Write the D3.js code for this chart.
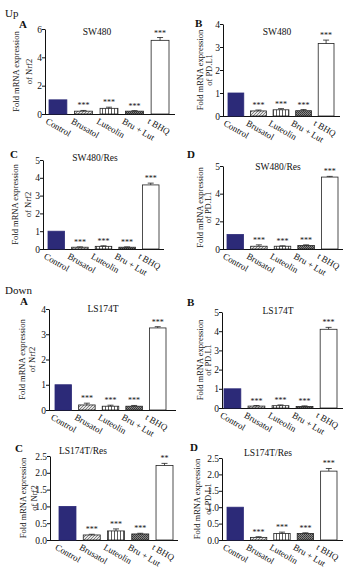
<!DOCTYPE html>
<html><head><meta charset="utf-8">
<script src="https://cdn.jsdelivr.net/npm/d3@7"></script>
<style>body{margin:0;background:#fff}svg{display:block}text{font-family:"Liberation Serif","DejaVu Serif",serif;fill:#111}</style>
</head><body><svg id="c" width="349" height="568"></svg>
<script>
const categories = ["Control","Brusatol","Luteolin","Bru + Lut","t BHQ"];
const panelLetters = ["A","B","C","D","A","B","C","D"];
const titles = ["SW480","SW480","SW480/Res","SW480/Res","LS174T","LS174T","LS174T/Res","LS174T/Res"];
const genes = ["of Nrf2","of PD.L1","of Nrf2","of PD.L1","of Nrf2","of PD.L1","of Nrf2","of PD.L1"];
const upA = [1.0, 0.2, 0.4, 0.2, 5.2];      const upAErr = [0, 0.05, 0.08, 0.04, 0.2];
const upB = [1.0, 0.22, 0.27, 0.23, 3.15];  const upBErr = [0, 0.04, 0.05, 0.05, 0.15];
const upC = [1.0, 0.1, 0.15, 0.1, 3.6];     const upCErr = [0, 0.02, 0.03, 0.02, 0.1];
const upD = [1.05, 0.2, 0.2, 0.25, 5.2];    const upDErr = [0, 0.1, 0.03, 0.05, 0.05];
const downA = [1.0, 0.2, 0.15, 0.15, 3.25]; const downAErr = [0, 0.07, 0.04, 0.03, 0.05];
const downB = [1.0, 0.1, 0.12, 0.08, 4.1];  const downBErr = [0, 0.03, 0.04, 0.03, 0.1];
const downC = [1.0, 0.15, 0.27, 0.18, 2.22];const downCErr = [0, 0.02, 0.06, 0.02, 0.06];
const downD = [1.0, 0.08, 0.2, 0.2, 2.1];   const downDErr = [0, 0.02, 0.04, 0.02, 0.08];
const starsDefault = ["", "***", "***", "***", "***"];
const starsDownC = ["", "***", "***", "***", "**"];
const ticksA = [0, 2, 4, 6];      const tickLabelsA = ["0","2","4","6"];
const ticks4 = [0, 1, 2, 3, 4];   const tickLabels4 = ["0","1","2","3","4"];
const ticks5 = [0, 1, 2, 3, 4, 5];const tickLabels5 = ["0","1","2","3","4","5"];
const ticksD = [0, 2, 4, 6];      const tickLabelsD = ["0","2","4","5"];
const ticks25 = [0, 0.5, 1, 1.5, 2, 2.5]; const tickLabels25 = ["0.0","0.5","1.0","1.5","2.0","2.5"];

const svg = d3.select("#c");
const defs = svg.append("defs");
let p = defs.append("pattern").attr("id","pBrus").attr("patternUnits","userSpaceOnUse").attr("width",3).attr("height",3);
p.append("rect").attr("width",3).attr("height",3).attr("fill","#e4e4e4");
p.append("path").attr("d","M0,3L3,0M-1,1L1,-1M2,4L4,2").attr("stroke","#555").attr("stroke-width",0.7);
p = defs.append("pattern").attr("id","pLut").attr("patternUnits","userSpaceOnUse").attr("width",3).attr("height",3);
p.append("rect").attr("width",3).attr("height",3).attr("fill","#fff");
p.append("path").attr("d","M0.5,0V3").attr("stroke","#333").attr("stroke-width",0.8);
p = defs.append("pattern").attr("id","pBL").attr("patternUnits","userSpaceOnUse").attr("width",2).attr("height",2);
p.append("rect").attr("width",2).attr("height",2).attr("fill","#8a8a8a");
p.append("rect").attr("width",1).attr("height",1).attr("fill","#333");
p.append("rect").attr("x",1).attr("y",1).attr("width",1).attr("height",1).attr("fill","#444");
const fills = ["#2c2a78","url(#pBrus)","url(#pLut)","url(#pBL)","#fff"];

const panels = [
 {v:upA, e:upAErr, s:starsDefault, tv:ticksA, tl:tickLabelsA, dom:[0,6], ax:45, y0:114, yt:29, bx:[49,169], xe:175, lx:19, ly:28, tx:97, ty:35, l1:16, l2:29},
 {v:upB, e:upBErr, s:starsDefault, tv:ticks4, tl:tickLabels4, dom:[0,4], ax:223, y0:116, yt:24, bx:[228,334], xe:340, lx:195, ly:27, tx:277, ty:35, l1:200, l2:209},
 {v:upC, e:upCErr, s:starsDefault, tv:ticks5, tl:tickLabels5, dom:[0,5], ax:43, y0:249, yt:160, bx:[48,159], xe:164, lx:10, ly:158, tx:95, ty:161, l1:15, l2:28},
 {v:upD, e:upDErr, s:starsDefault, tv:ticksD, tl:tickLabelsD, dom:[0,6], ax:223, y0:249, yt:166, bx:[227,338], xe:343, lx:187, ly:158, tx:278, ty:170, l1:200, l2:208},
 {v:downA, e:downAErr, s:starsDefault, tv:ticks4, tl:tickLabels4, dom:[0,4], ax:49, y0:410, yt:309, bx:[55,166], xe:176, lx:20, ly:305, tx:103, ty:312, l1:22, l2:32},
 {v:downB, e:downBErr, s:starsDefault, tv:ticks5, tl:tickLabels5, dom:[0,5], ax:222, y0:408, yt:312, bx:[224,337], xe:343, lx:187, ly:306, tx:278, ty:314, l1:200, l2:208},
 {v:downC, e:downCErr, s:starsDownC, tv:ticks25, tl:tickLabels25, dom:[0,2.5], ax:50, y0:540, yt:456, bx:[59,173], xe:178, lx:15, ly:452, tx:83, ty:454, l1:23, l2:34},
 {v:downD, e:downDErr, s:starsDefault, tv:ticks25, tl:tickLabels25, dom:[0,2.5], ax:222, y0:540, yt:458, bx:[227,337], xe:343, lx:190, ly:451, tx:268, ty:456, l1:197, l2:208}
];

svg.append("text").attr("x",5).attr("y",17).attr("font-size",11).text("Up");
svg.append("text").attr("x",5).attr("y",294).attr("font-size",11).text("Down");

panels.forEach((P, k) => {
  const g = svg.append("g");
  const y = d3.scaleLinear().domain(P.dom).range([P.y0, P.yt]);
  const x = d3.scaleBand().domain(categories).range(P.bx).paddingInner(0.3).paddingOuter(0);
  const yAxis = d3.axisLeft(y).tickValues(P.tv).tickFormat((d,i)=>P.tl[i]).tickSizeInner(3).tickSizeOuter(0);
  const ga = g.append("g").attr("transform",`translate(${P.ax},0)`).call(yAxis);
  ga.select(".domain").attr("stroke","#111");
  ga.selectAll(".tick line").attr("stroke","#111");
  ga.selectAll(".tick text").attr("font-size",9.5).attr("font-family","Liberation Serif").attr("x",-3).attr("fill","#222");
  g.append("line").attr("x1",P.ax).attr("x2",P.xe).attr("y1",P.y0+0.5).attr("y2",P.y0+0.5).attr("stroke","#111");
  const data = categories.map((c,i)=>({c, v:P.v[i], e:P.e[i], s:P.s[i], i}));
  g.selectAll("rect.bar").data(data).join("rect").attr("class","bar")
    .attr("x", d=>x(d.c)).attr("width", x.bandwidth())
    .attr("y", d=>y(d.v)).attr("height", d=>P.y0 - y(d.v))
    .attr("fill", d=>fills[d.i]).attr("stroke", d=>d.i===0?"#2c2a78":"#222").attr("stroke-width",0.8);
  data.filter(d=>d.e>0).forEach(d=>{
    const cx = x(d.c)+x.bandwidth()/2, yt = y(d.v+d.e);
    g.append("line").attr("x1",cx).attr("x2",cx).attr("y1",y(d.v)).attr("y2",yt).attr("stroke","#222").attr("stroke-width",0.8);
    g.append("line").attr("x1",cx-3).attr("x2",cx+3).attr("y1",yt).attr("y2",yt).attr("stroke","#222").attr("stroke-width",0.8);
  });
  g.selectAll("text.star").data(data.filter(d=>d.s)).join("text").attr("class","star")
    .attr("x", d=>x(d.c)+x.bandwidth()/2).attr("y", d=>y(d.v+d.e)-2)
    .attr("text-anchor","middle").attr("font-size",8).attr("font-family","DejaVu Sans").text(d=>d.s);
  g.selectAll("text.cat").data(data).join("text").attr("class","cat")
    .attr("transform", d=>`translate(${x(d.c)+x.bandwidth()/2-13},${P.y0+9}) rotate(30)`)
    .attr("font-size",9).text(d=>d.c);
  g.append("text").attr("x",P.tx).attr("y",P.ty).attr("text-anchor","middle").attr("font-size",9.5).text(titles[k]);
  g.append("text").attr("x",P.lx).attr("y",P.ly).attr("font-size",11).attr("font-weight","bold").text(panelLetters[k]);
  const ym = (P.y0+P.yt)/2;
  g.append("text").attr("transform",`translate(${P.l1+3},${ym}) rotate(-90)`).attr("text-anchor","middle").attr("font-size",8.5).text("Fold mRNA expression");
  g.append("text").attr("transform",`translate(${P.l2+3},${ym}) rotate(-90)`).attr("text-anchor","middle").attr("font-size",8.5).text(genes[k]);
});
</script></body></html>
